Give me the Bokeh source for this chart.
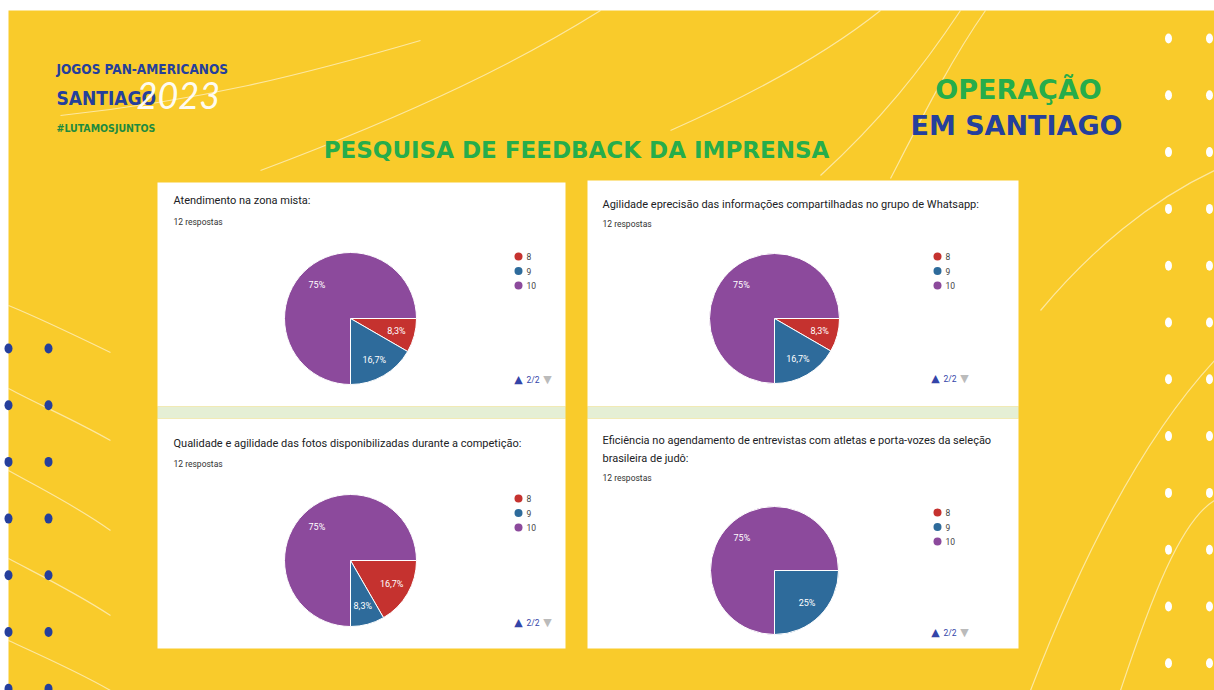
import numpy as np
from bokeh.plotting import figure
from bokeh.models import Range1d
from bokeh.core.properties import value
from bokeh.embed import file_html
from bokeh.resources import INLINE

# ---------------- data ----------------
score_labels = ["8", "9", "10"]
slice_colors = ["#c5322f", "#2e6b9b", "#8c4a9c"]

q1_title = ["Atendimento na zona mista:"]
q1_counts = [1, 2, 9]
q2_title = ["Agilidade eprecisão das informações compartilhadas no grupo de Whatsapp:"]
q2_counts = [1, 2, 9]
q3_title = ["Qualidade e agilidade das fotos disponibilizadas durante a competição:"]
q3_counts = [2, 1, 9]
q4_title = ["Eficiência no agendamento de entrevistas com atletas e porta-vozes da seleção",
            "brasileira de judô:"]
q4_counts = [0, 3, 9]
responses_text = "12 respostas"
pager_text = "2/2"

slide_title = "PESQUISA DE FEEDBACK DA IMPRENSA"
logo_lines = ["JOGOS PAN-AMERICANOS", "SANTIAGO", "2023", "#LUTAMOSJUNTOS"]
op_lines = ["OPERAÇÃO", "EM SANTIAGO"]

# ---------------- layout ----------------
W, H = 1214, 690
YELLOW = "#f9cb2b"
GREEN = "#26ad4b"
NAVY = "#253f9c"
ROBOTO = value("Roboto")


def Y(y):
    return H - np.asarray(y, dtype=float)


p = figure(width=W, height=H, x_range=Range1d(0, W), y_range=Range1d(0, H),
           output_backend="svg", toolbar_location=None, min_border=0,
           x_axis_type=None, y_axis_type=None,
           background_fill_color="white", border_fill_color="white",
           outline_line_color=None)
p.xgrid.visible = False
p.ygrid.visible = False

# slide background
p.quad(left=[8], right=[W], top=[Y(10)], bottom=[Y(H)], fill_color=YELLOW, line_color=None)


def txt(x, y, s, size, color, font="Roboto", style="normal", align="left",
        baseline="middle", alpha=1.0):
    p.text(x=[x], y=[float(Y(y))], text=[s], text_font=value(font),
           text_font_size=value(f"{size}px"), text_color=color,
           text_font_style=style, text_align=align, text_baseline=baseline,
           text_alpha=alpha)


# decorative white streaks
curves = [
    ((8, 305), (40, 318), (75, 335), (110, 352)),
    ((8, 388), (40, 405), (75, 420), (110, 440)),
    ((8, 470), (40, 488), (75, 505), (110, 530)),
    ((8, 558), (40, 575), (75, 592), (110, 615)),
    ((8, 640), (40, 655), (75, 670), (110, 690)),
    ((60, 115), (200, 100), (300, 75), (420, 40)),
    ((260, 170), (420, 110), (520, 60), (600, 10)),
    ((670, 130), (760, 90), (830, 50), (880, 10)),
    ((820, 175), (880, 120), (920, 70), (960, 10)),
    ((890, 178), (920, 120), (950, 60), (985, 10)),
    ((1030, 690), (1080, 560), (1140, 440), (1214, 360)),
    ((1120, 690), (1150, 600), (1180, 520), (1214, 500)),
    ((1040, 310), (1090, 250), (1150, 200), (1214, 170)),
]
for (x0, y0), (cx0, cy0), (cx1, cy1), (x1, y1) in curves:
    p.bezier(x0=[x0], y0=[float(Y(y0))], cx0=[cx0], cy0=[float(Y(cy0))],
             cx1=[cx1], cy1=[float(Y(cy1))], x1=[x1], y1=[float(Y(y1))],
             line_color="white", line_alpha=0.55, line_width=1.2)

# dots
rows = np.arange(7)
p.ellipse(x=np.r_[np.full(7, 8), np.full(7, 48)],
          y=Y(np.r_[348 + rows * 56.7, 348 + rows * 56.7]),
          width=8, height=10, width_units="screen", height_units="screen",
          fill_color=NAVY, line_color=None)
rows_r = np.arange(12)
p.ellipse(x=np.r_[np.full(12, 1168), np.full(12, 1209)],
          y=Y(np.r_[38 + rows_r * 56.8, 38 + rows_r * 56.8]),
          width=7, height=10, width_units="screen", height_units="screen",
          fill_color="white", line_color=None)

# logo
NARROW = "DejaVu Sans Condensed"
txt(56, 68, logo_lines[0], 13.5, NAVY, font=NARROW, style="bold")
txt(56, 97, logo_lines[1], 19, NAVY, font=NARROW, style="bold")
txt(136, 95, logo_lines[2], 36, "white", font="Lato", style="italic", alpha=0.95)
txt(56, 127, logo_lines[3], 10.5, "#1e8a3e", font=NARROW, style="bold")

# headings
txt(1018, 89, op_lines[0], 27, GREEN, font="DejaVu Sans", style="bold", align="center")
txt(1016, 125, op_lines[1], 27, NAVY, font="DejaVu Sans", style="bold", align="center")
txt(576, 149, slide_title, 23, GREEN, font="DejaVu Sans", style="bold", align="center")

# cards
cards_l = [157, 587, 157, 587]
cards_r = [565, 1018, 565, 1018]
cards_t = [182, 180, 418, 418]
cards_b = [406, 406, 648, 648]
p.quad(left=cards_l, right=cards_r, top=Y(cards_t), bottom=Y(cards_b),
       fill_color="white", line_color=None)
p.quad(left=[157, 587], right=[565, 1018], top=Y([406, 406]), bottom=Y([418, 418]),
       fill_color="#e5efd5", line_color=None)

panels = [
    dict(title=q1_title, counts=q1_counts, cx=350, cy=318, r=66, tx=173, ty=200, ry=221,
         lx=518, ly=256, ax=518, ay=379),
    dict(title=q2_title, counts=q2_counts, cx=774, cy=318, r=65, tx=602, ty=204, ry=223,
         lx=937, ly=256, ax=935, ay=378),
    dict(title=q3_title, counts=q3_counts, cx=350, cy=560, r=66, tx=173, ty=443, ry=463,
         lx=518, ly=498, ax=518, ay=622),
    dict(title=q4_title, counts=q4_counts, cx=774, cy=570, r=64, tx=602, ty=440, ry=477,
         lx=937, ly=512, ax=935, ay=632),
]

for pn in panels:
    counts = np.array(pn["counts"], dtype=float)
    frac = counts / counts.sum()
    cum = np.concatenate([[0.0], np.cumsum(frac)])
    starts = -2 * np.pi * cum[:-1]
    ends = -2 * np.pi * cum[1:]
    keep = counts > 0
    n = int(keep.sum())
    cols = [c for c, k in zip(slice_colors, keep) if k]
    cyd = float(Y(pn["cy"]))
    p.wedge(x=[pn["cx"]] * n, y=[cyd] * n,
            radius=pn["r"], radius_units="screen",
            start_angle=list(starts[keep]), end_angle=list(ends[keep]),
            direction="clock", fill_color=cols, line_color="white", line_width=1)
    # slice labels
    for f, a0, a1, k in zip(frac, starts, ends, keep):
        if not k:
            continue
        mid = (a0 + a1) / 2
        pct = 100 * f
        lab = (f"{pct:.0f}%" if abs(pct - round(pct)) < 0.05 else f"{pct:.1f}%").replace(".", ",")
        lx = pn["cx"] + 0.72 * pn["r"] * np.cos(mid)
        ly = cyd + 0.72 * pn["r"] * np.sin(mid)
        p.text(x=[lx], y=[ly], text=[lab], text_font=ROBOTO, text_font_size="9px",
               text_color="white", text_align="center", text_baseline="middle")
    # title + response count
    for i, line in enumerate(pn["title"]):
        txt(pn["tx"], pn["ty"] + i * 18, line, 11, "#202124")
    txt(pn["tx"], pn["ry"], responses_text, 8.5, "#333333")
    # legend
    for i, (lab, c) in enumerate(zip(score_labels, slice_colors)):
        yy = pn["ly"] + i * 14.5
        p.scatter(x=[pn["lx"]], y=[float(Y(yy))], size=8, fill_color=c, line_color=None)
        txt(pn["lx"] + 8, yy, lab, 8.5, "#444444")
    # pager
    txt(pn["ax"], pn["ay"], "▲", 11, "#3344a8", font="DejaVu Sans", align="center")
    txt(pn["ax"] + 8, pn["ay"], pager_text, 8.5, "#3344a8")
    txt(pn["ax"] + 29, pn["ay"], "▼", 11, "#bbbbbb", font="DejaVu Sans", align="center")

open("out.html", "w").write(file_html(p, INLINE))
